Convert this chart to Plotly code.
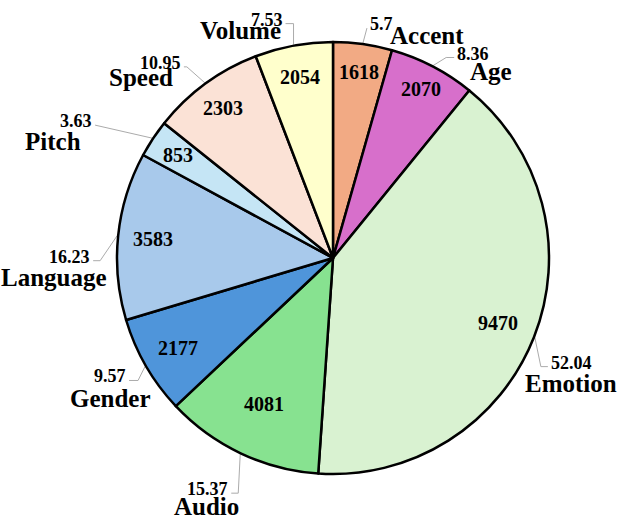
import math
import plotly.graph_objects as go

# wedge sizes follow the printed percentages, counts are written inside
categories = ["Accent", "Age", "Emotion", "Audio", "Gender", "Language", "Pitch", "Speed", "Volume"]
percents = [5.7, 8.36, 52.04, 15.37, 9.57, 16.23, 3.63, 10.95, 7.53]
counts = [1618, 2070, 9470, 4081, 2177, 3583, 853, 2303, 2054]
colors = ["#F2AA84", "#D76FCB", "#D9F2D1", "#87E290", "#4F95DA",
          "#A8C9EB", "#C5E5F5", "#FBE2D6", "#FFFFCC"]

W, H = 622, 523
CX, CY, R = 333, 258, 216    # pie centre / radius in pixels

# hand placed label layout (pixels): elbow offset from wedge edge, tail length,
# offset of the category name from the end of the leader line
elbows = [(4, -15), (13, -8), (6, 29), (-2, 39), (-7, 14), (-17, 25), (-57, -13), (-18, -16), (0, -21)]
tails = [0, 8, 7, -7, -9, -7, 0, -3, -8]
sides = [1, 1, 1, -1, -1, -1, -1, -1, -1]
name_offsets = [(21, 7), (14, 14), (-25, 17), (10, 13), (24, 18), (16, 17), (-12, 16), (-9, 11), (-3, 7)]
count_radius = [0.87, 0.88, 0.82, 0.75, 0.83, 0.84, 0.86, 0.86, 0.85]

total = sum(percents)
mids = []
acc = 0
for p in percents:
    mids.append((acc + p / 2) / total * 2 * math.pi)
    acc += p

serif = "Liberation Serif"

fig = go.Figure()
fig.add_trace(go.Pie(
    values=percents, labels=categories, sort=False, direction="clockwise", rotation=0,
    marker=dict(colors=colors, line=dict(color="black", width=2.5)),
    textinfo="none", hoverinfo="label+value", showlegend=False,
    domain=dict(x=[(CX - R) / W, (CX + R) / W], y=[1 - (CY + R) / H, 1 - (CY - R) / H]),
))

lx, ly = [], []
annotations = []
for i, a in enumerate(mids):
    ex = CX + (R + 1) * math.sin(a)
    ey = CY - (R + 1) * math.cos(a)
    bx, by = ex + elbows[i][0], ey + elbows[i][1]
    tx = bx + tails[i]
    lx += [ex, bx, tx, None]
    ly += [ey, by, by, None]
    anchor = "left" if sides[i] > 0 else "right"
    annotations.append(dict(
        x=tx + sides[i], y=by - 4, text=f"{percents[i]:g}", xanchor=anchor, yanchor="middle",
        showarrow=False, font=dict(family=serif, size=18, color="black", weight="bold")))
    annotations.append(dict(
        x=tx + name_offsets[i][0], y=by + name_offsets[i][1], text=categories[i],
        xanchor=anchor, yanchor="middle", showarrow=False,
        font=dict(family=serif, size=25, color="black", weight="bold")))
    k = count_radius[i] * R
    annotations.append(dict(
        x=CX + k * math.sin(a), y=CY - k * math.cos(a), text=str(counts[i]),
        xanchor="center", yanchor="middle", showarrow=False,
        font=dict(family=serif, size=20, color="black", weight="bold")))

fig.add_trace(go.Scatter(x=lx, y=ly, mode="lines", line=dict(color="#ABABAB", width=1),
                         hoverinfo="skip", showlegend=False))

fig.update_layout(
    width=W, height=H, margin=dict(l=0, r=0, t=0, b=0),
    paper_bgcolor="white", plot_bgcolor="rgba(0,0,0,0)",
    xaxis=dict(range=[0, W], visible=False, domain=[0, 1]),
    yaxis=dict(range=[H, 0], visible=False, domain=[0, 1]),
    annotations=annotations,
)
# drop the default 8px page margin so the figure fills the window
fig.write_html("out.html", config={"displayModeBar": False},
               post_script="document.body.style.margin = '0';")
